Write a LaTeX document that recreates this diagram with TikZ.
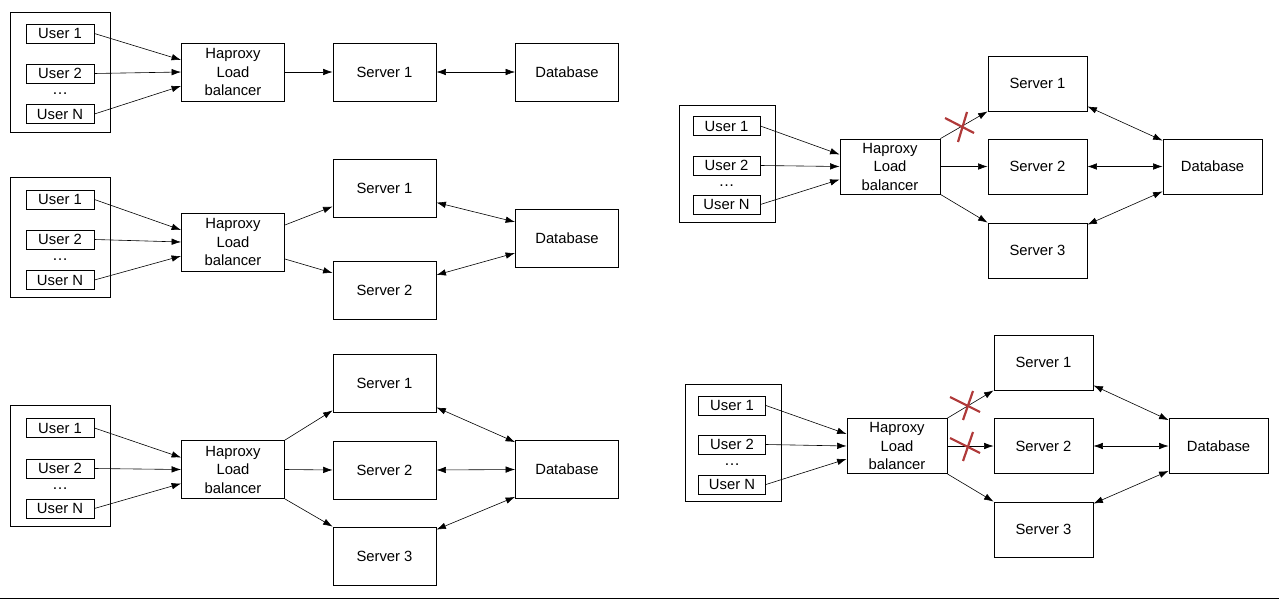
\documentclass[tikz,border=0pt]{standalone}
\usepackage{fontspec}
\setmainfont{Liberation Sans}
\usetikzlibrary{arrows.meta}
\definecolor{crossred}{HTML}{B03A3A}
\newcommand\fs{\fontsize{14.8}{18.5}\selectfont}
\tikzset{
  box/.style={draw, line width=0.8pt, inner sep=0pt, align=center, font=\fs},
  ub/.style={box, minimum width=68pt, minimum height=19pt},
  outer/.style={draw, line width=0.8pt, inner sep=0pt},
  big/.style={box, minimum width=103pt, minimum height=58pt},
  bigs/.style={box, minimum width=99pt, minimum height=55pt},
  dots/.style={inner sep=0pt, font=\fontsize{16}{18}\selectfont},
  arr/.style={-{Latex[length=9.5pt,width=6.5pt]}, line width=0.6pt},
  darr/.style={{Latex[length=9.5pt,width=6.5pt]}-{Latex[length=9.5pt,width=6.5pt]}, line width=0.6pt},
  xmark/.style={draw=crossred, line width=2.2pt}
}
\begin{document}
\begin{tikzpicture}[x=1pt,y=-1pt]
\useasboundingbox (0,0) rectangle (1279,599);
% ---------- Diagram 1 ----------
\node[outer, minimum width=100pt, minimum height=120pt] (a0) at (60,72) {};
\node[ub] (a1) at (60,33.5) {User 1};
\node[ub] (a2) at (60,73.5) {User 2};
\node[dots] (ad) at (60,94) {\dots};
\node[ub] (an) at (60,114) {User N};
\node[big] (alb) at (233,72) {Haproxy\\Load\\balancer};
\node[big] (as1) at (384.5,72) {Server 1};
\node[big] (adb) at (567,72) {Database};
\draw[arr] (a1.east) -- ([yshift=12pt]alb.west);
\draw[arr] (a2.east) -- (alb.west);
\draw[arr] (an.east) -- ([yshift=-14pt]alb.west);
\draw[arr] (alb.east) -- (as1.west);
\draw[darr] (as1.east) -- (adb.west);
% ---------- Diagram 2 ----------
\node[outer, minimum width=100pt, minimum height=120pt] (b0) at (60,237) {};
\node[ub] (b1) at (60,199.5) {User 1};
\node[ub] (b2) at (60,239.5) {User 2};
\node[dots] (bd) at (60,260) {\dots};
\node[ub] (bn) at (60,280) {User N};
\node[big] (blb) at (233,242) {Haproxy\\Load\\balancer};
\node[big] (bs1) at (384.5,188.5) {Server 1};
\node[big] (bs2) at (384.5,290) {Server 2};
\node[big] (bdb) at (567,238) {Database};
\draw[arr] (b1.east) -- ([yshift=12pt]blb.west);
\draw[arr] (b2.east) -- (blb.west);
\draw[arr] (bn.east) -- ([yshift=-14pt]blb.west);
\draw[arr] ([yshift=17pt]blb.east) -- ([yshift=-18pt]bs1.west);
\draw[arr] ([yshift=-17pt]blb.east) -- ([yshift=17pt]bs2.west);
\draw[darr] ([yshift=-14pt]bs1.east) -- ([yshift=16pt]bdb.west);
\draw[darr] ([yshift=15pt]bs2.east) -- ([yshift=-15pt]bdb.west);
% ---------- Diagram 3 ----------
\node[outer, minimum width=100pt, minimum height=121pt] (c0) at (60,465.5) {};
\node[ub] (c1) at (60,428) {User 1};
\node[ub] (c2) at (60,468.5) {User 2};
\node[dots] (cd) at (60,489) {\dots};
\node[ub] (cn) at (60,508.5) {User N};
\node[big] (clb) at (233,469.5) {Haproxy\\Load\\balancer};
\node[big] (cs1) at (384.5,383) {Server 1};
\node[big] (cs2) at (384.5,470) {Server 2};
\node[big] (cs3) at (384.5,556) {Server 3};
\node[big] (cdb) at (567,469.5) {Database};
\draw[arr] (c1.east) -- ([yshift=12pt]clb.west);
\draw[arr] (c2.east) -- (clb.west);
\draw[arr] (cn.east) -- ([yshift=-14pt]clb.west);
\draw[arr] (clb.north east) -- ([yshift=2pt]cs1.south west);
\draw[arr] (clb.east) -- (cs2.west);
\draw[arr] (clb.south east) -- (cs3.north west);
\draw[darr] ([yshift=5pt]cs1.south east) -- ([yshift=-2pt]cdb.north west);
\draw[darr] (cs2.east) -- (cdb.west);
\draw[darr] ([yshift=-3pt]cs3.north east) -- ([yshift=2pt]cdb.south west);
% ---------- Diagram 4 ----------
\node[outer, minimum width=96pt, minimum height=117pt] (d0) at (727,163.5) {};
\node[ub, minimum width=67pt] (d1) at (726.5,126) {User 1};
\node[ub, minimum width=67pt] (d2) at (726.5,165.5) {User 2};
\node[dots] (dd) at (726.5,186) {\dots};
\node[ub, minimum width=67pt] (dn) at (726.5,204.5) {User N};
\node[bigs, minimum width=100pt] (dlb) at (890,166.5) {Haproxy\\Load\\balancer};
\node[bigs] (ds1) at (1037.5,83.5) {Server 1};
\node[bigs] (ds2) at (1037.5,166.5) {Server 2};
\node[bigs] (ds3) at (1037.5,250.5) {Server 3};
\node[bigs] (ddb) at (1212.5,166.5) {Database};
\draw[arr] (d1.east) -- ([yshift=12pt]dlb.west);
\draw[arr] (d2.east) -- (dlb.west);
\draw[arr] (dn.east) -- ([yshift=-13pt]dlb.west);
\draw[arr] (dlb.north east) -- (ds1.south west);
\draw[arr] (dlb.east) -- (ds2.west);
\draw[arr] (dlb.south east) -- (ds3.north west);
\draw[darr] ([yshift=5pt]ds1.south east) -- ([yshift=-2pt]ddb.north west);
\draw[darr] (ds2.east) -- (ddb.west);
\draw[darr] ([yshift=-2pt]ds3.north east) -- ([yshift=3pt]ddb.south west);
\coordinate (dx) at (962,127);
\draw[xmark] ([shift={(-17,-9)}]dx) -- ([shift={(12,6)}]dx);
\draw[xmark] ([shift={(5,-15)}]dx) -- ([shift={(-4,15)}]dx);
% ---------- Diagram 5 ----------
\node[outer, minimum width=96pt, minimum height=117pt] (e0) at (733,442.5) {};
\node[ub, minimum width=67pt] (e1) at (732,405.5) {User 1};
\node[ub, minimum width=67pt] (e2) at (732,444.5) {User 2};
\node[dots] (ed) at (732,465) {\dots};
\node[ub, minimum width=67pt] (en) at (732,484.5) {User N};
\node[bigs, minimum width=100pt] (elb) at (897,446) {Haproxy\\Load\\balancer};
\node[bigs] (es1) at (1043.5,362.5) {Server 1};
\node[bigs] (es2) at (1043.5,446) {Server 2};
\node[bigs] (es3) at (1043.5,529.5) {Server 3};
\node[bigs] (edb) at (1218.5,446) {Database};
\draw[arr] (e1.east) -- ([yshift=12pt]elb.west);
\draw[arr] (e2.east) -- (elb.west);
\draw[arr] (en.east) -- ([yshift=-13pt]elb.west);
\draw[arr] (elb.north east) -- (es1.south west);
\draw[arr] (elb.east) -- (es2.west);
\draw[arr] (elb.south east) -- (es3.north west);
\draw[darr] ([yshift=5pt]es1.south east) -- ([yshift=-2pt]edb.north west);
\draw[darr] (es2.east) -- (edb.west);
\draw[darr] ([yshift=-2pt]es3.north east) -- ([yshift=3pt]edb.south west);
\coordinate (ex1) at (967,405);
\draw[xmark] ([shift={(-17,-8)}]ex1) -- ([shift={(13,7)}]ex1);
\draw[xmark] ([shift={(6,-14)}]ex1) -- ([shift={(-4,15)}]ex1);
\coordinate (ex2) at (967,446);
\draw[xmark] ([shift={(-17,-8)}]ex2) -- ([shift={(13,7)}]ex2);
\draw[xmark] ([shift={(6,-14)}]ex2) -- ([shift={(-4,15)}]ex2);
% ---------- bottom rule ----------
\coordinate (rl) at (0,598);
\coordinate (rr) at (1279,598);
\draw[line width=1pt] (rl) -- (rr);
\end{tikzpicture}
\end{document}
